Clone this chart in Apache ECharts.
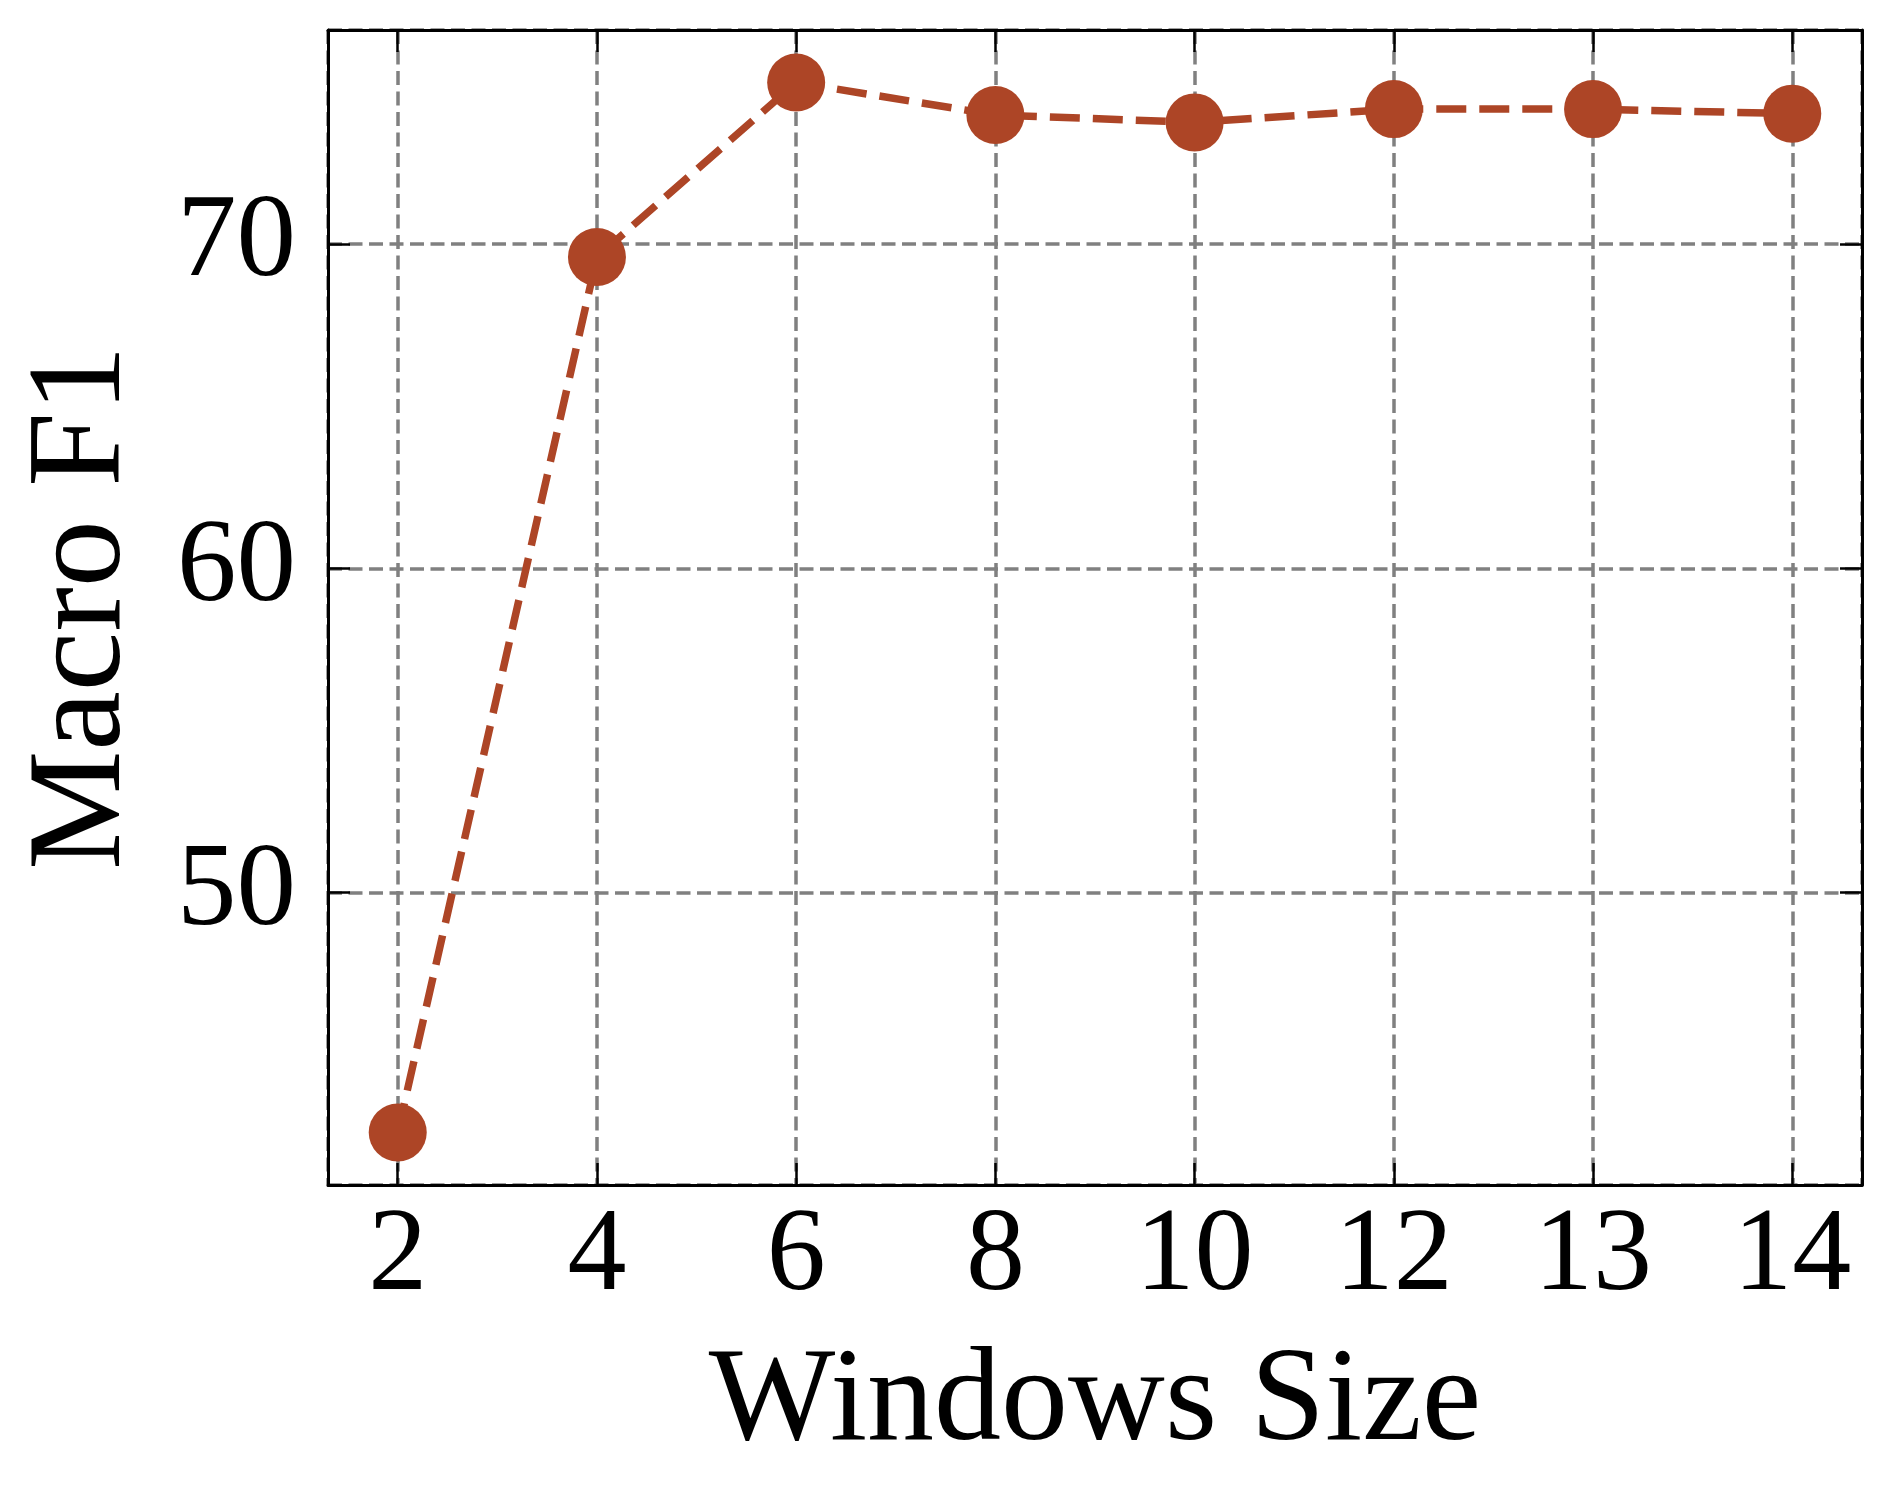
<!DOCTYPE html>
<html>
<head>
<meta charset="utf-8">
<title>Macro F1 vs Windows Size</title>
<script src="https://cdn.jsdelivr.net/npm/echarts@6/dist/echarts.min.js"></script>
<style>
  html, body { margin: 0; padding: 0; background: #fff; }
  #chart { width: 1892px; height: 1500px; }
</style>
</head>
<body>
<div id="chart"></div>
<script>
// window sizes on the x axis (evenly spaced, like categories)
const windowSizes = ['2', '4', '6', '8', '10', '12', '13', '14'];
// Macro F1
const macroF1 = [42.6, 69.6, 74.98, 73.98, 73.75, 74.16, 74.16, 74.02];
// axis limits (5% margin around data, matplotlib style)
const xMin = -0.35, xMax = 7.35;
const yMin = 40.98, yMax = 76.6;

const FONT = '"Liberation Serif", "Times New Roman", serif';
const RUST = '#ad4526';

const chart = echarts.init(document.getElementById('chart'));

const points = macroF1.map((v, i) => [i, v]);

const tickStyle = { show: true, inside: true, length: 22, lineStyle: { color: '#000', width: 2.5 } };
const lineStyle = { show: true, onZero: false, lineStyle: { color: '#000', width: 3 } };
const gridLine = { show: true, lineStyle: { color: '#808080', width: 3.5, type: [14, 6.5] } };

chart.setOption({
  animation: false,
  backgroundColor: '#fff',
  grid: { left: 328, right: 30, top: 30, bottom: 315, containLabel: false },
  xAxis: [
    {
      type: 'value',
      min: xMin, max: xMax, splitNumber: 8,
      name: 'Windows Size',
      nameLocation: 'middle',
      nameGap: 152,
      nameTextStyle: { fontFamily: FONT, fontSize: 134, color: '#000' },
      axisLine: lineStyle,
      axisTick: tickStyle,
      splitLine: gridLine,
      axisLabel: {
        margin: 14,
        fontFamily: FONT, fontSize: 118, color: '#000',
        showMinLabel: false, showMaxLabel: false,
        formatter: v => (Number.isInteger(v) && windowSizes[v] !== undefined) ? windowSizes[v] : ''
      }
    },
    {
      type: 'value', position: 'top',
      min: xMin, max: xMax, splitNumber: 8,
      axisLine: lineStyle, axisTick: tickStyle,
      splitLine: { show: false }, axisLabel: { show: false }
    }
  ],
  yAxis: [
    {
      type: 'value',
      min: yMin, max: yMax, splitNumber: 5,
      name: 'Macro F1',
      nameLocation: 'middle',
      nameGap: 177,
      nameTextStyle: { fontFamily: FONT, fontSize: 134, color: '#000' },
      axisLine: lineStyle,
      axisTick: tickStyle,
      splitLine: gridLine,
      axisLabel: {
        margin: 32,
        fontFamily: FONT, fontSize: 119, color: '#000',
        showMinLabel: false, showMaxLabel: false,
        formatter: v => (v % 10 === 0) ? String(v) : ''
      }
    },
    {
      type: 'value', position: 'right',
      min: yMin, max: yMax, splitNumber: 5,
      axisLine: lineStyle, axisTick: tickStyle,
      splitLine: { show: false }, axisLabel: { show: false }
    }
  ],
  series: [
    {
      type: 'line',
      data: points,
      symbol: 'circle',
      symbolSize: 58,
      itemStyle: { color: RUST },
      lineStyle: { color: RUST, width: 7.5, type: [30, 13] },
      z: 5
    }
  ]
});
</script>
</body>
</html>
